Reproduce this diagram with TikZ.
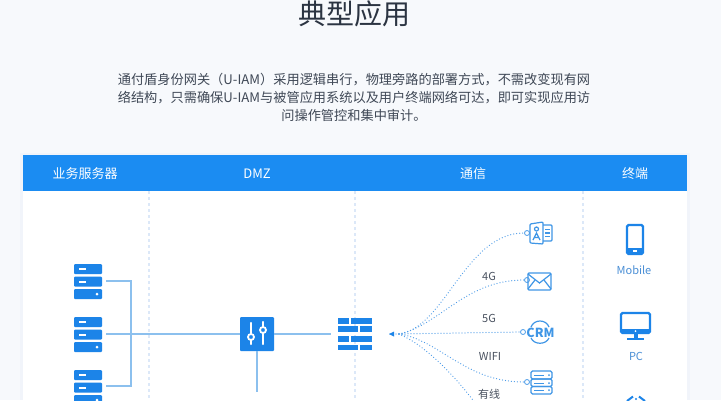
\documentclass[tikz,border=0pt]{standalone}
\usepackage{fontspec}
\setmainfont{Noto Sans CJK SC}
\usetikzlibrary{positioning}

\definecolor{pagebg}{HTML}{F7F9FC}
\definecolor{panelshade}{HTML}{F1F4FA}
\definecolor{headblue}{HTML}{1B8CF2}
\definecolor{iconblue}{HTML}{1C84E8}
\definecolor{lineblue}{HTML}{8CC0EE}
\definecolor{dotblue}{HTML}{4A9BE8}
\definecolor{outlineblue}{HTML}{3F96E6}
\definecolor{columnline}{HTML}{DCE8F8}
\definecolor{titleink}{HTML}{2B3442}
\definecolor{bodyink}{HTML}{3F4856}
\definecolor{labelink}{HTML}{4A5260}
\definecolor{termink}{HTML}{4A8FD6}

\tikzset{
	iconbox/.style={minimum width=36,minimum height=36,inner sep=0},
	headtext/.style={text=white,font=\fontsize{13}{13}\selectfont},
	link/.style={draw=lineblue,line width=1.5},
	dotlink/.style={draw=dotblue,line width=1.25,line cap=round,dash pattern=on 0pt off 3pt},
	column/.style={draw=columnline,line width=1.4,dash pattern=on 3pt off 3pt},
	netlabel/.style={text=labelink,font=\fontsize{11}{11}\selectfont},
	termlabel/.style={text=termink,font=\fontsize{11}{11}\selectfont},
	endring/.style={draw=dotblue,fill=white,line width=0.8},
	serverstack/.pic={
		\foreach \rowy/\mark in {-17.5/0,-5/0,7.5/1} {
			\fill[iconblue,rounded corners=1] (-14,\rowy) rectangle (14,\rowy+10);
			\ifnum\mark=0
				\fill[white] (-9,\rowy+4) rectangle (-2,\rowy+6);
			\else
				\fill[white] (9,\rowy+5) circle (1.5);
			\fi
		}
	},
	firewall/.pic={
		\foreach \rowy/\split in {-16/-6,2/-6} {
			\fill[iconblue] (-17,\rowy) rectangle (\split,\rowy+5.5);
			\fill[iconblue] (\split+2,\rowy) rectangle (17,\rowy+5.5);
		}
		\foreach \rowy/\split in {-8/2.5,10.5/2.5} {
			\fill[iconblue] (-17,\rowy) rectangle (\split,\rowy+5.5);
			\fill[iconblue] (\split+2.5,\rowy) rectangle (17,\rowy+5.5);
		}
	},
	sliders/.pic={
		\draw[white,line width=2.4,line cap=round] (-6,-11) -- (-6,10);
		\draw[white,line width=2.4,line cap=round] (6,-12) -- (6,10);
		\draw[white,fill=iconblue,line width=1.8] (-6,3) circle (3);
		\draw[white,fill=iconblue,line width=1.8] (6,-4) circle (3);
	},
}

\begin{document}
\begin{tikzpicture}[x=1pt,y=-1pt]
	\path[use as bounding box,clip] (0,0) rectangle (721,400);
	\fill[pagebg] (0,0) rectangle (721,400);

	% Heading
	\node[text=titleink,font=\fontsize{28}{28}\selectfont] (title) at (354,14) {典型应用};
	\node[text=bodyink,font=\fontsize{13.2}{18}\selectfont,align=center,text width=490] (intro) at (354,97)
		{通付盾身份网关（U-IAM）采用逻辑串行，物理旁路的部署方式，不需改变现有网\\
		 络结构，只需确保U-IAM与被管应用系统以及用户终端网络可达，即可实现应用访\\
		 问操作管控和集中审计。};

	% Panel
	\fill[panelshade] (20,153) rectangle (690,400);
	\fill[white] (23,155) rectangle (687,400);
	\fill[headblue] (23,155) rectangle (687,191);
	\node[headtext] (headServer) at (85,173.5) {业务服务器};
	\node[headtext] (headDmz) at (257,173.5) {DMZ};
	\node[headtext] (headComm) at (473,173.5) {通信};
	\node[headtext] (headTerm) at (635,173.5) {终端};
	\foreach \colx in {149,355,583} {
		\draw[column] (\colx,191) -- (\colx,400);
	}

	% Servers and bus
	\node[iconbox] (srvA) at (88,281) {};
	\node[iconbox] (srvB) at (88,334) {};
	\node[iconbox] (srvC) at (88,387) {};
	\pic at (88,281.5) {serverstack};
	\pic at (88,334.5) {serverstack};
	\pic at (88,387.5) {serverstack};
	\coordinate (busTop) at (131,281);
	\coordinate (busBot) at (131,386);
	\draw[link] (srvA.east) -- (busTop) -- (busBot) -- (srvC.east |- busBot);

	% Gateway and firewall
	\node[fill=iconblue,rounded corners=1,minimum size=34,inner sep=0] (gateway) at (257,334) {};
	\pic at (257,334) {sliders};
	\node[iconbox,minimum width=48] (wall) at (355,334) {};
	\pic at (355,334) {firewall};
	\coordinate (gatewayEnd) at (257,392);
	\draw[link] (srvB.east) -- (gateway.west);
	\draw[link] (gateway.east) -- (wall.west);
	\draw[link] (gateway.south) -- (gatewayEnd);

	% Fan of links
	\coordinate (fanTip) at (389,334);
	\coordinate (fanHub) at (399,334);
	\coordinate (wiredEnd) at (482,412);
	\node[minimum size=5,inner sep=0,circle,endring] (ringA) at (527,233) {};
	\node[minimum size=5,inner sep=0,circle,endring] (ringB) at (527,280) {};
	\node[minimum size=5,inner sep=0,circle,endring] (ringC) at (523,332) {};
	\node[minimum size=5,inner sep=0,circle,endring] (ringD) at (527,382) {};
	\draw[dotlink] (fanHub) -- (fanTip);
	\fill[iconblue] (fanTip) -- ++(5,-2.5) -- ++(0,5) -- cycle;
	\draw[dotlink] (fanHub) .. controls (445,328) and (465,233) .. (ringA.west);
	\draw[dotlink] (fanHub) .. controls (440,325) and (465,280) .. (ringB.west);
	\draw[dotlink] (fanHub) -- (ringC.west);
	\draw[dotlink] (fanHub) .. controls (440,340) and (465,382) .. (ringD.west);
	\draw[dotlink] (fanHub) .. controls (425,345) and (455,375) .. (wiredEnd);
	\node[netlabel] (lab4g) at (489,276) {4G};
	\node[netlabel] (lab5g) at (489,318) {5G};
	\node[netlabel] (labWifi) at (490,356) {WIFI};
	\node[netlabel,inner sep=0] (labWired) at (489,394) {有线};

	% Channel icons
	\begin{scope}[draw=outlineblue,line width=1.2]
		\draw[rounded corners=1] (530,224) -- (543,222) -- (543,244) -- (530,243) -- cycle;
		\draw[rounded corners=1] (543,225) -- (552,225) -- (552,241) -- (543,241);
		\draw (536.5,229) circle (2);
		\draw (533,240) -- (536.5,233) -- (540,240) (534.5,237.5) -- (538.5,237.5);
		\draw (545,229.5) -- (550,229.5) (545,233) -- (550,233) (545,236.5) -- (550,236.5);
		\draw[rounded corners=1] (528,273) rectangle (551,290);
		\draw (528,274) -- (539.5,283) -- (551,274);
		\draw (528,289) -- (535,280) (551,289) -- (544,280);
		\draw (531,327) .. controls (534,319) and (546,319) .. (549,327);
		\draw (531,338) .. controls (534,345) and (546,345) .. (549,338);
		\draw[rounded corners=1.5] (531,371) rectangle (552,379);
		\draw[rounded corners=1.5] (531,379) rectangle (552,386.5);
		\draw[rounded corners=1.5] (531,386.5) rectangle (552,394);
		\foreach \rowy in {375,383,390} {
			\draw[line width=0.9] (534,\rowy) -- (544,\rowy);
			\fill[outlineblue] (549,\rowy) circle (1);
		}
	\end{scope}
	\node[text=outlineblue,font=\fontsize{12.5}{13}\bfseries\selectfont,inner sep=0] (crmText) at (540.5,332.5) {CRM};

	% Terminals
	\draw[iconblue,line width=2.4,rounded corners=1.5] (627,225) rectangle (643,254);
	\fill[iconblue] (627,248) rectangle (643,254);
	\fill[white] (633,250) rectangle (637,252);
	\node[termlabel] (labMobile) at (634,270) {Mobile};
	\draw[iconblue,line width=2.4,rounded corners=1.5] (621,313) rectangle (650,333);
	\fill[iconblue] (621,329) rectangle (650,333);
	\fill[white] (635.5,331) circle (1);
	\fill[iconblue] (633.5,333) rectangle (637.5,338);
	\fill[iconblue] (627,338) rectangle (644,340);
	\node[termlabel] (labPc) at (636,356) {PC};
	\draw[iconblue,line width=2] (627,401) -- (633,396.5) (639,396.5) -- (645,401);
	\fill[iconblue] (636,399) circle (1.2);
\end{tikzpicture}
\end{document}
